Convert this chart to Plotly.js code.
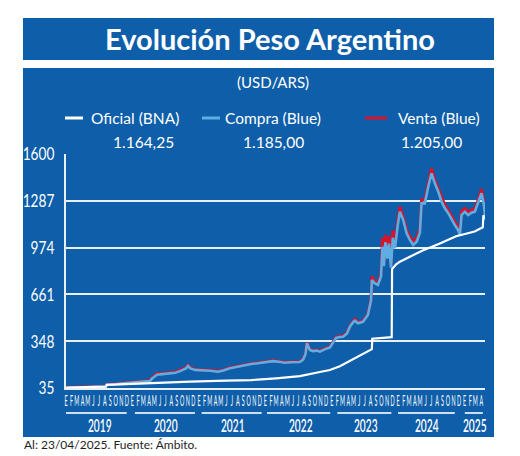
<!DOCTYPE html>
<html>
<head>
<meta charset="utf-8">
<script src="https://cdn.plot.ly/plotly-3.0.1.min.js"></script>
<style>
  html, body { margin: 0; padding: 0; background: #ffffff; }
  #chart { width: 520px; height: 456px; }
</style>
</head>
<body>
<div id="chart"></div>
<script>
// Blue-market dollar quotes (ARS per USD)
const fechasBlue = [
  '2019-01-02','2019-02-01','2019-03-01','2019-04-01','2019-05-01','2019-06-01','2019-07-01','2019-08-05','2019-08-12','2019-09-01',
  '2019-10-01','2019-11-01','2019-12-01','2020-01-01','2020-02-01','2020-03-01','2020-04-07','2020-04-20','2020-05-04','2020-05-18',
  '2020-06-01','2020-06-20','2020-07-10','2020-08-01','2020-08-25','2020-09-19','2020-10-10','2020-10-22','2020-11-02','2020-11-15',
  '2020-12-10','2021-01-07','2021-02-05','2021-03-03','2021-04-16','2021-05-15','2021-06-21','2021-08-01','2021-09-11','2021-10-15',
  '2021-11-21','2021-12-20','2022-01-15','2022-02-12','2022-03-15','2022-04-19','2022-05-20','2022-06-20','2022-07-10','2022-07-28',
  '2022-08-10','2022-08-18','2022-09-03','2022-09-20','2022-10-10','2022-10-28','2022-11-15','2022-12-05','2022-12-22','2023-01-08',
  '2023-01-25','2023-02-15','2023-03-05','2023-03-26','2023-04-11','2023-05-01','2023-05-09','2023-05-25','2023-06-22','2023-07-19',
  '2023-07-30','2023-08-05','2023-08-10','2023-08-27','2023-09-12','2023-09-23','2023-09-29','2023-10-07','2023-10-15','2023-10-23',
  '2023-11-03','2023-11-12','2023-11-23','2023-12-03','2023-12-15','2023-12-31','2024-01-11','2024-01-29','2024-02-17','2024-03-06',
  '2024-03-24','2024-04-12','2024-04-30','2024-05-09','2024-05-27','2024-06-15','2024-07-03','2024-07-21','2024-08-09','2024-08-27',
  '2024-09-14','2024-10-03','2024-10-21','2024-11-08','2024-11-26','2024-12-06','2024-12-15','2025-01-02','2025-01-20','2025-02-08',
  '2025-02-26','2025-03-16','2025-04-04','2025-04-17','2025-04-23'
];
const compra = [
  37, 38, 40, 43, 44, 44, 42, 44, 57, 57,
  60, 64, 68, 72, 74, 78, 82, 100, 115, 125,
  126, 128, 128, 134, 137, 148, 160, 166, 182, 166,
  156, 156, 152, 150, 144, 152, 167, 177, 189, 195,
  200, 206, 210, 215, 210, 204, 207, 210, 209, 225,
  262, 334, 289, 282, 285, 278, 290, 300, 305, 338,
  370, 376, 378, 400, 445, 478, 485, 468, 478, 523,
  579, 620, 757, 735, 724, 768, 780, 980, 850, 1010,
  900, 1000, 840, 1040, 970, 1130, 1214, 1159, 1070, 1025,
  992, 1013, 1072, 1270, 1270, 1381, 1471, 1404, 1348, 1281,
  1237, 1204, 1159, 1125, 1092, 1058, 1192, 1214, 1192, 1207,
  1214, 1270, 1337, 1259, 1185
];
const venta = [
  38, 39, 41, 44, 46, 45, 43, 45, 59, 59,
  62, 67, 71, 75, 77, 81, 86, 106, 121, 133,
  132, 133, 133, 139, 142, 153, 166, 171, 188, 171,
  160, 160, 156, 154, 148, 156, 171, 181, 193, 199,
  204, 210, 214, 219, 214, 208, 211, 214, 213, 229,
  267, 339, 293, 286, 289, 282, 294, 304, 309, 343,
  375, 381, 383, 405, 450, 484, 495, 474, 484, 528,
  585, 630, 780, 745, 735, 780, 795, 1040, 870, 1060,
  920, 1050, 860, 1090, 990, 1160, 1247, 1180, 1090, 1045,
  1015, 1040, 1095, 1292, 1292, 1400, 1504, 1425, 1370, 1305,
  1260, 1225, 1180, 1145, 1110, 1078, 1215, 1235, 1212, 1227,
  1234, 1290, 1364, 1280, 1205
];

// Official rate, Banco Nación
const fechasOficial = [
  '2019-01-02','2019-04-01','2019-06-01','2019-08-09','2019-08-13','2019-12-01','2020-06-01','2020-11-15','2021-06-01','2021-10-15',
  '2022-03-01','2022-07-10','2022-10-28','2022-12-22','2023-02-15','2023-05-15','2023-07-20','2023-08-10','2023-08-12','2023-11-20',
  '2023-11-27','2023-11-29','2023-12-20','2024-01-11','2024-03-06','2024-05-15','2024-08-15','2024-11-15','2025-02-25','2025-04-11',
  '2025-04-14','2025-04-23'
];
const oficial = [
  38, 42, 45, 44, 56, 62, 70, 78, 84, 88,
  100, 115, 142, 155, 180, 240, 280, 295, 365, 370,
  375, 830, 860, 880, 915, 955, 1000, 1050, 1082, 1110,
  1190, 1164.25
];

const nombresSeries = ['Oficial (BNA)', 'Compra (Blue)', 'Venta (Blue)'];
const ticksY = [35, 348, 661, 974, 1287, 1600];
const letrasMes = ['E','F','M','A','M','J','J','A','S','O','N','D'];
const anios = ['2019','2020','2021','2022','2023','2024','2025'];
const centroAnio = ['2019-07-04','2020-07-04','2021-07-04','2022-07-16','2023-07-08','2024-06-10','2025-02-25'];
const tramoAnio = [
  ['2019-01-01','2019-12-01'], ['2020-01-15','2020-12-10'], ['2021-01-16','2021-12-12'],
  ['2022-01-10','2022-12-24'], ['2023-02-01','2023-11-25'], ['2024-01-01','2024-11-08'],
  ['2025-01-02','2025-04-11']
];

const AZUL = '#0e5ea9';
const CELESTE = '#5eaee4';
const ROJO = '#d8142b';
const BLANCO = '#ffffff';
const W = 520, H = 456;
const px = x => x / W;
const py = y => 1 - y / H;

// month ticks: first day of each month up to April 2025
const tickVals = [], tickText = [];
anios.forEach(a => {
  const n = a === '2025' ? 4 : 12;
  for (let m = 0; m < n; m++) {
    tickVals.push(a + '-' + String(m + 1).padStart(2, '0') + '-01');
    tickText.push(letrasMes[m]);
  }
});

function formatoAR(v) {
  const partes = v.toFixed(2).split('.');
  const entero = partes[0].replace(/\B(?=(\d{3})+(?!\d))/g, '.');
  return entero + ',' + partes[1];
}

const traces = [
  { x: fechasBlue, y: venta, type: 'scatter', mode: 'lines', name: nombresSeries[2],
    line: { color: ROJO, width: 3 }, hoverinfo: 'skip' },
  { x: fechasBlue, y: compra, type: 'scatter', mode: 'lines', name: nombresSeries[1],
    line: { color: CELESTE, width: 2.6 }, hoverinfo: 'skip' },
  { x: fechasOficial, y: oficial, type: 'scatter', mode: 'lines', name: nombresSeries[0],
    line: { color: BLANCO, width: 2.2 }, hoverinfo: 'skip' }
];

const fuente = 'Lato, "Open Sans", sans-serif';

const shapes = [
  { type: 'rect', xref: 'paper', yref: 'paper', x0: px(23), x1: px(494), y0: py(60), y1: py(18),
    fillcolor: AZUL, line: { width: 0 }, layer: 'below' },
  { type: 'rect', xref: 'paper', yref: 'paper', x0: px(23), x1: px(494), y0: py(437), y1: py(68),
    fillcolor: AZUL, line: { width: 0 }, layer: 'below' },
  // legend swatches
  { type: 'line', xref: 'paper', yref: 'paper', x0: px(65), x1: px(83), y0: py(118), y1: py(118),
    line: { color: BLANCO, width: 3 } },
  { type: 'line', xref: 'paper', yref: 'paper', x0: px(202), x1: px(220), y0: py(118), y1: py(118),
    line: { color: CELESTE, width: 3 } },
  { type: 'line', xref: 'paper', yref: 'paper', x0: px(365), x1: px(387), y0: py(118), y1: py(118),
    line: { color: ROJO, width: 3 } }
];
tramoAnio.forEach(t => shapes.push({
  type: 'line', xref: 'x', yref: 'paper', x0: t[0], x1: t[1], y0: py(413), y1: py(413),
  line: { color: 'rgba(225,236,247,0.9)', width: 2 }
}));

const annotations = [
  { text: '<b>Evolución Peso Argentino</b>', xref: 'paper', yref: 'paper', x: px(270), y: py(38),
    xanchor: 'center', yanchor: 'middle', showarrow: false, font: { family: fuente, size: 29, color: BLANCO } },
  { text: '(USD/ARS)', xref: 'paper', yref: 'paper', x: px(273), y: py(82),
    xanchor: 'center', yanchor: 'middle', showarrow: false, font: { family: fuente, size: 15, color: BLANCO } },
  { text: nombresSeries[0], xref: 'paper', yref: 'paper', x: px(89), y: py(118),
    xanchor: 'left', yanchor: 'middle', showarrow: false, font: { family: fuente, size: 15.5, color: BLANCO } },
  { text: nombresSeries[1], xref: 'paper', yref: 'paper', x: px(223), y: py(118),
    xanchor: 'left', yanchor: 'middle', showarrow: false, font: { family: fuente, size: 15.5, color: BLANCO } },
  { text: nombresSeries[2], xref: 'paper', yref: 'paper', x: px(396), y: py(118),
    xanchor: 'left', yanchor: 'middle', showarrow: false, font: { family: fuente, size: 15.5, color: BLANCO } },
  { text: formatoAR(oficial[oficial.length - 1]), xref: 'paper', yref: 'paper', x: px(143), y: py(142),
    xanchor: 'center', yanchor: 'middle', showarrow: false, font: { family: fuente, size: 15.5, color: BLANCO } },
  { text: formatoAR(compra[compra.length - 1]), xref: 'paper', yref: 'paper', x: px(273), y: py(142),
    xanchor: 'center', yanchor: 'middle', showarrow: false, font: { family: fuente, size: 15.5, color: BLANCO } },
  { text: formatoAR(venta[venta.length - 1]), xref: 'paper', yref: 'paper', x: px(431), y: py(142),
    xanchor: 'center', yanchor: 'middle', showarrow: false, font: { family: fuente, size: 15.5, color: BLANCO } },
  { text: 'Al: 23/04/2025. Fuente: Ámbito.', xref: 'paper', yref: 'paper', x: px(22), y: py(444),
    xanchor: 'left', yanchor: 'middle', showarrow: false, font: { family: fuente, size: 12, color: '#1e1e1e' } }
];
anios.forEach((a, i) => annotations.push({
  text: a, xref: 'x', yref: 'paper', x: centroAnio[i], y: py(425), xanchor: 'center', yanchor: 'middle',
  showarrow: false, font: { family: fuente, size: 17, color: BLANCO, weight: 600 }
}));

const layout = {
  width: W, height: H,
  margin: { l: 0, r: 0, t: 0, b: 0 },
  paper_bgcolor: '#ffffff',
  plot_bgcolor: 'rgba(0,0,0,0)',
  showlegend: false,
  xaxis: {
    type: 'date',
    domain: [px(66), px(485)],
    range: ['2019-01-01', '2025-04-23'],
    tickmode: 'array', tickvals: tickVals, ticktext: tickText,
    tickangle: 0,
    ticks: '', showgrid: false, zeroline: false,
    showline: true, linecolor: '#e8f0f8', linewidth: 2,
    tickfont: { family: fuente, size: 15, color: BLANCO },
    ticklabelstandoff: -2
  },
  yaxis: {
    domain: [py(388), py(154)],
    range: [35, 1600],
    tickmode: 'array', tickvals: ticksY, ticktext: ticksY.map(String),
    ticks: '', zeroline: false,
    showgrid: true, gridcolor: '#e8f0f8', gridwidth: 2,
    showline: true, linecolor: '#e8f0f8', linewidth: 2,
    tickfont: { family: fuente, size: 18, color: BLANCO },
    ticklabelstandoff: 6
  },
  shapes: shapes,
  annotations: annotations
};

// squeeze a text element horizontally around a chosen anchor ('center' or 'end')
function estrechar(t, factor, ancla) {
  const bb = t.getBBox();
  const cx = ancla === 'end' ? bb.x + bb.width : bb.x + bb.width / 2;
  const tr = t.getAttribute('transform') || '';
  t.setAttribute('transform', tr + ' translate(' + cx + ',0) scale(' + factor + ',1) translate(' + (-cx) + ',0)');
}

Plotly.newPlot('chart', traces, layout, { staticPlot: true, displayModeBar: false }).then(gd => {
  gd.querySelectorAll('.xtick text').forEach(t => estrechar(t, 0.36, 'center'));
  gd.querySelectorAll('.ytick text').forEach(t => estrechar(t, 0.76, 'end'));
  gd.querySelectorAll('.annotation-text').forEach(t => {
    if (anios.indexOf(t.textContent) >= 0) estrechar(t, 0.6, 'center');
  });
});
</script>
</body>
</html>
